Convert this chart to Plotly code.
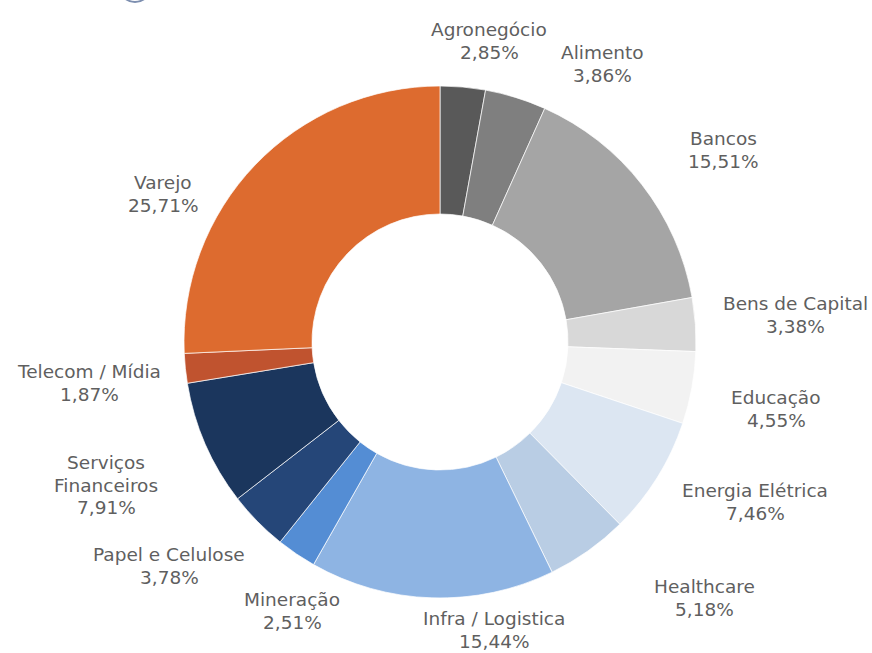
import plotly.graph_objects as go

# ---- data ----
categories = ["Agronegócio", "Alimento", "Bancos", "Bens de Capital", "Educação",
              "Energia Elétrica", "Healthcare", "Infra / Logistica", "Mineração",
              "Papel e Celulose", "Serviços Financeiros", "Telecom / Mídia", "Varejo"]
values = [2.85, 3.86, 15.51, 3.38, 4.55, 7.46, 5.18, 15.44, 2.51, 3.78, 7.91, 1.87, 25.71]

# ---- style ----
colors = ["#595959", "#7f7f7f", "#a5a5a5", "#d8d8d8", "#f2f2f2", "#dce6f2", "#b9cde4",
          "#8eb4e3", "#548dd4", "#254678", "#1b365d", "#c0532f", "#dd6b2f"]
W, H = 872, 653
cx, cy, R = 440, 342, 256  # pie centre / radius in pixels

# label anchor centres in pixels (layout only)
label_px = [(489, 41), (602, 64), (723, 150), (795, 315), (776, 409), (755, 502),
            (704, 598), (494, 630), (292, 611), (169, 566), (106, 485), (89, 383), (163, 194)]
line_step = 22.5
font_size = 18.5

line_breaks = {"Serviços Financeiros": ["Serviços", "Financeiros"]}

fig = go.Figure(go.Pie(
    labels=categories,
    values=values,
    sort=False,
    direction="clockwise",
    rotation=0,
    hole=0.5,
    marker=dict(colors=colors, line=dict(color="white", width=0.7)),
    textinfo="none",
    hoverinfo="label+percent",
    showlegend=False,
    domain=dict(x=[(cx - R) / W, (cx + R) / W],
                y=[(H - cy - R) / H, (H - cy + R) / H]),
))

annotations = []
for cat, val, (px, py) in zip(categories, values, label_px):
    lines = line_breaks.get(cat, [cat]) + [f"{val:.2f}".replace(".", ",") + "%"]
    n = len(lines)
    for i, ln in enumerate(lines):
        yy = py + (i - (n - 1) / 2) * line_step
        annotations.append(dict(
            x=px / W, y=1 - yy / H, xref="paper", yref="paper",
            text=ln, showarrow=False, xanchor="center", yanchor="middle",
            align="center", font=dict(family="DejaVu Sans", size=font_size, color="#5f5f5f"),
        ))

fig.update_layout(
    width=W, height=H,
    margin=dict(l=0, r=0, t=0, b=0),
    paper_bgcolor="white",
    plot_bgcolor="white",
    annotations=annotations,
    shapes=[dict(type="circle", xref="paper", yref="paper",
                 x0=120 / W, x1=150 / W, y0=1 - 2 / H, y1=1 + 26 / H,
                 line=dict(color="#7d8fb0", width=2))],
)

fig.write_html("out.html", config={"displayModeBar": False},
               post_script="document.body.style.margin='0px';document.body.style.overflow='hidden';")
